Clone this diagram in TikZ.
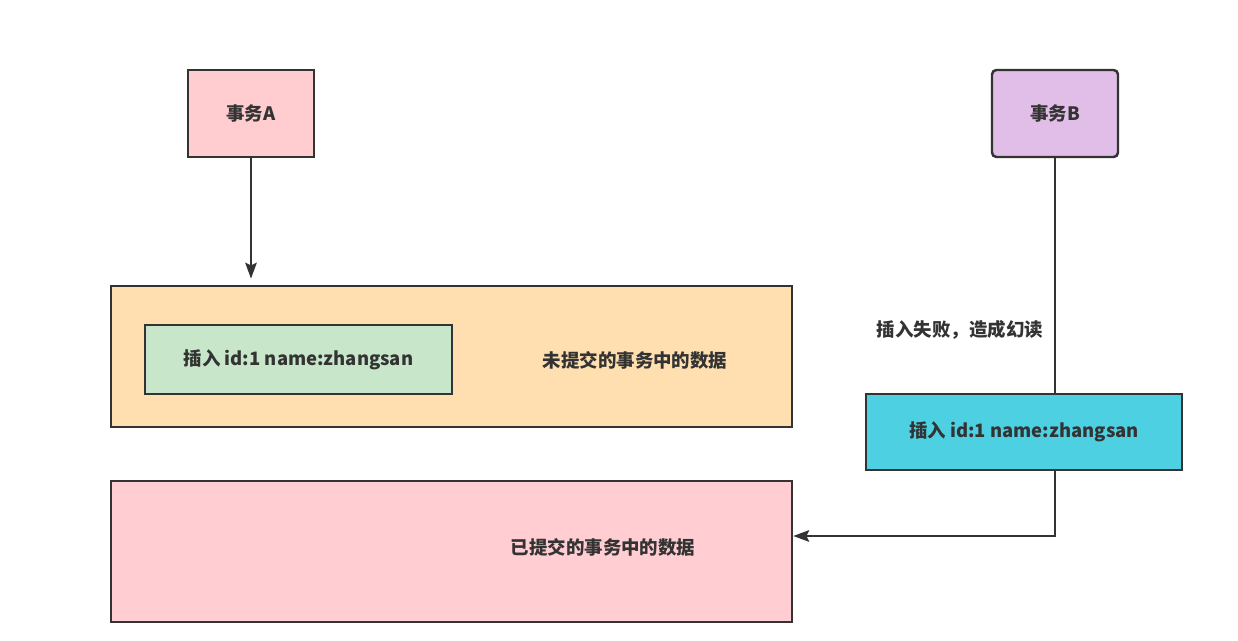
\documentclass[tikz,border=0pt]{standalone}
\usepackage{fontspec}
\setmainfont{Noto Sans CJK SC}
\usetikzlibrary{arrows.meta}

\definecolor{txtgray}{HTML}{333333}
\definecolor{apink}{HTML}{FFCCD0}
\definecolor{bpurple}{HTML}{E1BEE7}
\definecolor{orangefill}{HTML}{FFDFB0}
\definecolor{greenfill}{HTML}{C8E6C9}
\definecolor{cyanfill}{HTML}{4DD0E1}
\definecolor{redfill}{HTML}{FFCDD2}

\tikzset{
  box/.style={draw=txtgray, line width=1.4pt, text=txtgray,
    font=\fontsize{10.5}{12}\selectfont\bfseries, inner sep=0pt},
  lbl/.style={text=txtgray, font=\fontsize{10.5}{12}\selectfont\bfseries},
  conn/.style={draw=txtgray, line width=1.4pt},
  arr/.style={conn, -{Stealth[length=9pt,width=6.5pt,inset=1.5pt]}}
}

\begin{document}
\begin{tikzpicture}
\useasboundingbox (0,0) rectangle (24.76,-12.82);

% Transactions
\node[box, fill=apink, minimum width=2.52cm, minimum height=1.74cm] (taskA) at (5.02,-2.27) {事务A};
\node[box, fill=bpurple, rounded corners=2.5pt, minimum width=2.52cm, minimum height=1.74cm] (taskB) at (21.10,-2.27) {事务B};

% Uncommitted data
\node[box, fill=orangefill, minimum width=13.62cm, minimum height=2.82cm] (uncommitted) at (9.03,-7.13) {};
\node[box, fill=greenfill, minimum width=6.14cm, minimum height=1.38cm] (insertA) at (5.97,-7.19) {插入 id:1 name:zhangsan};
\node[lbl] (uncommittedlbl) at (12.70,-7.20) {未提交的事务中的数据};

% Committed data
\node[box, fill=redfill, minimum width=13.62cm, minimum height=2.82cm] (committed) at (9.03,-11.03) {};
\node[lbl] (committedlbl) at (12.06,-10.94) {已提交的事务中的数据};

% Failed insert of B
\node[box, fill=cyanfill, minimum width=6.32cm, minimum height=1.52cm] (insertB) at (20.48,-8.64) {插入 id:1 name:zhangsan};
\node[lbl] (failedlbl) at (19.20,-6.60) {插入失败，造成幻读};
\coordinate (corner) at (21.10,-10.72);

% Connectors
\draw[arr, shorten >=3.5pt] (taskA) -- (taskA |- uncommitted.north);
\draw[conn] (taskB) -- (taskB |- insertB.north);
\draw[arr] (taskB |- insertB.south) -- (corner) -- (corner -| committed.east);
\end{tikzpicture}
\end{document}
